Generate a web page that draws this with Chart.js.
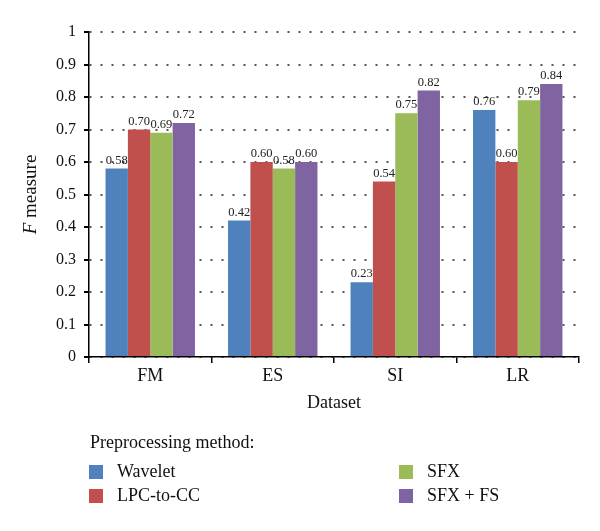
<!DOCTYPE html>
<html>
<head>
<meta charset="utf-8">
<script src="https://cdn.jsdelivr.net/npm/chart.js@4"></script>
<style>
  html, body { margin: 0; padding: 0; background: #fff; }
  #wrap { width: 600px; height: 531px; position: relative; }
</style>
</head>
<body>
<div id="wrap"><canvas id="fmChart" width="600" height="531"></canvas></div>
<script>
const categories = ["FM", "ES", "SI", "LR"];
const methods = ["Wavelet", "LPC-to-CC", "SFX", "SFX + FS"];
const wavelet = [0.58, 0.42, 0.23, 0.76];
const lpcToCc = [0.70, 0.60, 0.54, 0.60];
const sfx = [0.69, 0.58, 0.75, 0.79];
const sfxFs = [0.72, 0.60, 0.82, 0.84];
const colors = ["#4F81BD", "#C0504D", "#9BBB59", "#8064A2"];
const yTicks = [0, 0.1, 0.2, 0.3, 0.4, 0.5, 0.6, 0.7, 0.8, 0.9, 1];

const serif = "'Liberation Serif', 'DejaVu Serif', serif";

// value labels above each bar
const barLabels = {
  id: "barLabels",
  afterDatasetsDraw(chart) {
    const ctx = chart.ctx;
    ctx.save();
    ctx.font = "12.5px " + serif;
    ctx.fillStyle = "#222";
    ctx.textAlign = "center";
    ctx.textBaseline = "alphabetic";
    chart.data.datasets.forEach((ds, i) => {
      chart.getDatasetMeta(i).data.forEach((bar, j) => {
        ctx.fillText(ds.data[j].toFixed(2), bar.x, bar.y - 5);
      });
    });
    ctx.restore();
  },
};

// axis titles and the legend block
const extras = {
  id: "extras",
  afterDraw(chart) {
    const ctx = chart.ctx;
    const area = chart.chartArea;
    ctx.save();
    ctx.fillStyle = "#111";

    // y title: italic F + measure
    ctx.translate(31, (area.top + area.bottom) / 2);
    ctx.rotate(-Math.PI / 2);
    ctx.textBaseline = "middle";
    ctx.font = "italic 19px " + serif;
    const fW = ctx.measureText("F").width;
    ctx.font = "19px " + serif;
    const restW = ctx.measureText(" measure").width;
    let x0 = -(fW + restW) / 2;
    ctx.textAlign = "left";
    ctx.font = "italic 19px " + serif;
    ctx.fillText("F", x0, 0);
    ctx.font = "19px " + serif;
    ctx.fillText(" measure", x0 + fW, 0);
    ctx.setTransform(1, 0, 0, 1, 0, 0);

    // x title
    ctx.font = "18px " + serif;
    ctx.textAlign = "center";
    ctx.textBaseline = "middle";
    ctx.fillText("Dataset", (area.left + area.right) / 2, 403);

    // legend
    ctx.textAlign = "left";
    ctx.fillText("Preprocessing method:", 90, 443);
    const cols = [89, 399];
    const rows = [472, 496];
    chart.data.datasets.forEach((ds, i) => {
      const cx = cols[Math.floor(i / 2)];
      const cy = rows[i % 2];
      ctx.fillStyle = ds.backgroundColor;
      ctx.fillRect(cx, cy - 7, 14, 14);
      ctx.fillStyle = "#111";
      ctx.fillText(ds.label, cx + 28, cy);
    });
    ctx.restore();
  },
};

const seriesValues = [wavelet, lpcToCc, sfx, sfxFs];

new Chart(document.getElementById("fmChart").getContext("2d"), {
  type: "bar",
  data: {
    labels: categories,
    datasets: methods.map((m, i) => ({
      label: m,
      data: seriesValues[i],
      backgroundColor: colors[i],
      borderWidth: 0,
      categoryPercentage: 0.73,
      barPercentage: 1.0,
    })),
  },
  options: {
    responsive: false,
    animation: false,
    layout: { padding: { left: 39, right: 21, top: 32, bottom: 144 } },
    plugins: {
      legend: { display: false },
      tooltip: { enabled: false },
    },
    scales: {
      x: {
        afterFit: (s) => { s.height = 30; },
        grid: {
          offset: true,
          drawOnChartArea: false,
          drawTicks: true,
          tickLength: 6,
          tickColor: "#000",
          lineWidth: 1.5,
        },
        border: { display: true, color: "#000", width: 1.5 },
        ticks: { color: "#111", font: { family: serif, size: 18 }, padding: 2 },
      },
      y: {
        min: 0,
        max: 1,
        afterFit: (s) => { s.width = 50; },
        afterBuildTicks: (s) => { s.ticks = yTicks.map((v) => ({ value: v })); },
        grid: {
          color: "#555",
          lineWidth: 2,
          tickColor: "#000",
          tickBorderDash: [],
          tickLength: 5,
        },
        border: { display: true, color: "#000", width: 1.5, dash: [2, 9] },
        ticks: {
          color: "#111",
          font: { family: serif, size: 16 },
          padding: 8,
          callback: (v) => String(Math.round(v * 10) / 10),
        },
      },
    },
  },
  plugins: [barLabels, extras],
});
</script>
</body>
</html>
